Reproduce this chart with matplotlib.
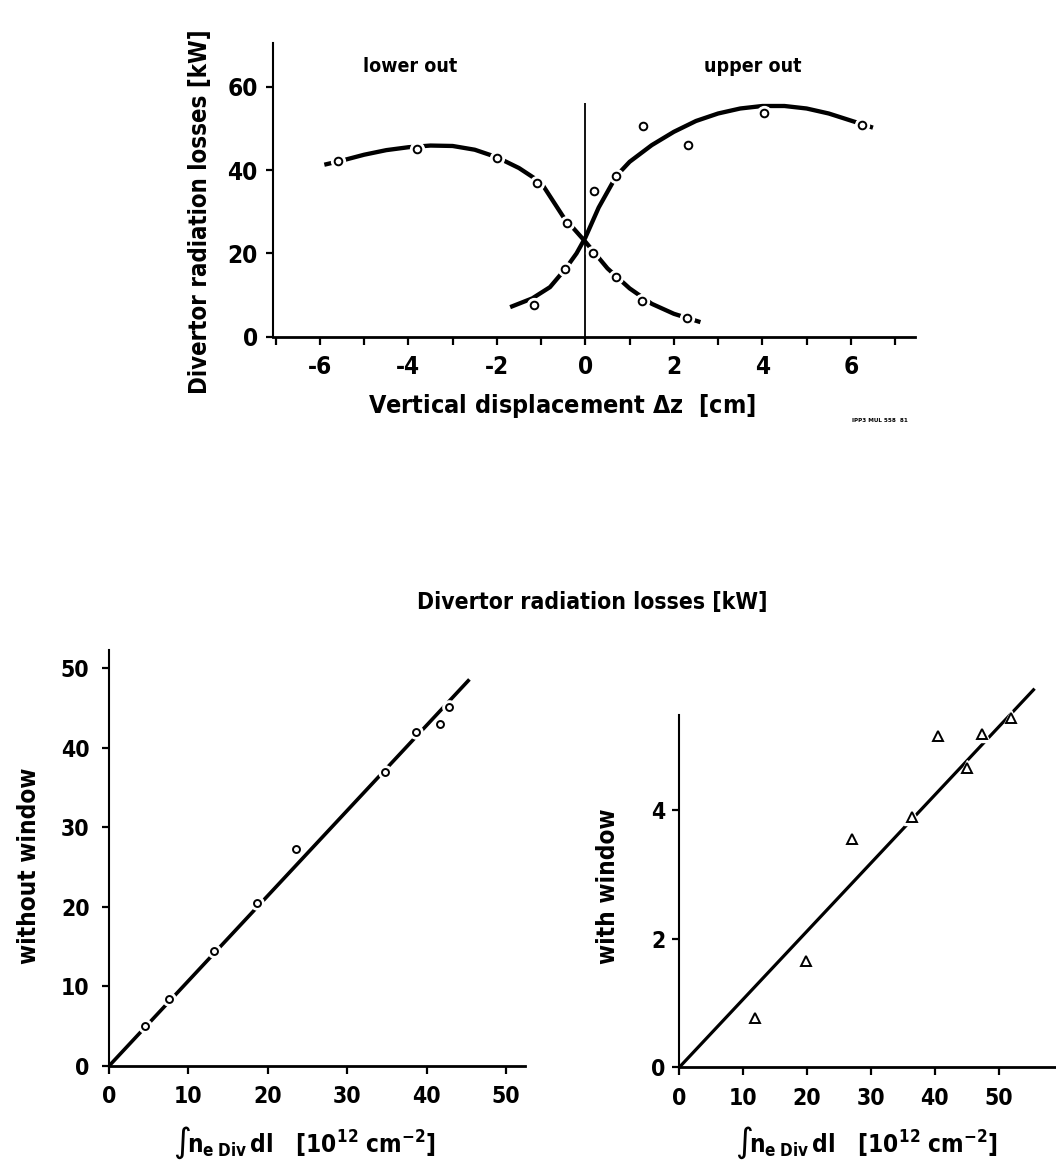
"""Divertor radiation losses: displacement scan and density scaling."""

import matplotlib

matplotlib.use("Agg")
import matplotlib.pyplot as plt

plt.rcParams["font.family"] = ["DejaVu Sans"]
plt.rcParams["font.stretch"] = "condensed"
plt.rcParams["font.weight"] = "bold"
plt.rcParams["axes.unicode_minus"] = False
plt.rcParams["mathtext.fontset"] = "dejavusans"
plt.rcParams["mathtext.default"] = "bf"

# --- top panel: radiation vs vertical displacement ---
lower_x = [-5.6, -3.8, -2.0, -1.09, -0.41, 0.18, 0.69, 1.29, 2.29]
lower_y = [42.1, 45.1, 43.0, 37.0, 27.3, 20.1, 14.3, 8.5, 4.5]
upper_x = [-1.16, -0.45, 0.2, 0.69, 1.30, 2.33, 4.03, 6.25]
upper_y = [7.6, 16.25, 35.0, 38.6, 50.7, 46.1, 53.6, 50.9]

# hand-drawn fit curves
lower_fit_x = [-5.9, -5.5, -5.0, -4.5, -4.0, -3.5, -3.0, -2.5, -2.0, -1.5, -1.0,
               -0.5, 0.0, 0.5, 1.0, 1.5, 2.0, 2.6]
lower_fit_y = [41.3, 42.3, 43.7, 44.8, 45.5, 45.9, 45.8, 44.9, 43.1, 40.5, 37.0,
               28.8, 22.8, 16.4, 11.6, 7.9, 5.5, 3.5]
upper_fit_x = [-1.7, -1.2, -0.8, -0.45, -0.2, 0.0, 0.3, 0.7, 1.0, 1.5, 2.0, 2.5,
               3.0, 3.5, 4.0, 4.5, 5.0, 5.5, 6.0, 6.5]
upper_fit_y = [7.1, 9.2, 11.9, 16.3, 20.0, 23.8, 31.0, 38.6, 42.0, 46.0, 49.2,
               51.8, 53.6, 54.8, 55.4, 55.4, 54.8, 53.6, 51.9, 50.2]

# --- bottom panels: radiation vs line density ---
nodw_x = [4.5, 7.6, 13.2, 18.6, 23.6, 34.8, 38.65, 41.7, 42.85]
nodw_y = [5.07, 8.38, 14.46, 20.5, 27.3, 36.9, 41.95, 43.0, 45.1]
nodw_fit_x = [0, 45.4]
nodw_fit_y = [0, 48.6]

win_x = [11.8, 19.8, 26.95, 36.45, 40.5, 45.05, 47.3, 51.9]
win_y = [0.76, 1.65, 3.55, 3.90, 5.15, 4.66, 5.18, 5.44]
win_fit_x = [0, 55.6]
win_fit_y = [0, 5.89]

W, H = 1056, 1164
DENS_LABEL = r"$\int\!\mathrm{\mathbf{n}}_{\mathbf{e\;Div}}\,\mathbf{dl}$   [10$^{12}$ cm$^{-2}$]"


def fx(px):
    return px / W


def fy(py):
    return 1 - py / H


def add_axes_px(left, top, right, bottom):
    return fig.add_axes([fx(left), fy(bottom), fx(right) - fx(left), fy(top) - fy(bottom)])


def style_axes(ax, tick_size, xpad, ypad):
    for side in ("top", "right"):
        ax.spines[side].set_visible(False)
    ax.spines["left"].set_linewidth(1.5)
    ax.spines["bottom"].set_linewidth(2.0)
    ax.tick_params(axis="x", direction="out", length=6, width=1.6,
                   labelsize=tick_size, pad=xpad)
    ax.tick_params(axis="y", direction="out", length=5, width=1.6,
                   labelsize=tick_size, pad=ypad)


def open_marks(ax, x, y, marker, ms, halo):
    ax.plot(x, y, marker, ms=halo, mfc="white", mec="white", ls="none",
            zorder=3, clip_on=False)
    ax.plot(x, y, marker, ms=ms, mfc="white", mec="black", mew=1.4, ls="none",
            zorder=4, clip_on=False)


fig = plt.figure(figsize=(W / 100, H / 100), dpi=100)

# top
ax = add_axes_px(273, 42.7, 915, 336.7)
ax.plot(lower_fit_x, lower_fit_y, color="black", lw=3.1, solid_capstyle="butt")
ax.plot(upper_fit_x, upper_fit_y, color="black", lw=3.1, solid_capstyle="butt")
ax.vlines(0, 0, 56, color="black", lw=1.3)
open_marks(ax, lower_x, lower_y, "o", 5.5, 10)
open_marks(ax, upper_x, upper_y, "o", 5.5, 10)
ax.set_xlim(-7.06, 7.45)
ax.set_ylim(0, 70.6)
ax.set_xticks(range(-7, 8))
ax.set_xticklabels(["" if v % 2 else str(v) for v in range(-7, 8)])
ax.set_yticks([0, 20, 40, 60])
style_axes(ax, 17.5, 7, 6)
ax.text(-3.96, 65, "lower out", ha="center", va="center", fontsize=14)
ax.text(3.79, 65, "upper out", ha="center", va="center", fontsize=14)
fig.text(fx(562), fy(406), r"Vertical displacement $\Delta$z  [cm]",
         ha="center", va="center", fontsize=18)
fig.text(fx(200), fy(212), "Divertor radiation losses [kW]", rotation=90,
         ha="center", va="center", fontsize=17.2)
fig.text(fx(880), fy(421), "IPP3 MUL 558  81", ha="center", va="center",
         fontsize=4.5)

# bottom left
ax = add_axes_px(109, 650, 525, 1066)
ax.plot(nodw_fit_x, nodw_fit_y, color="black", lw=2.6, solid_capstyle="butt")
open_marks(ax, nodw_x, nodw_y, "o", 5, 9.5)
ax.set_xlim(0, 52.4)
ax.set_ylim(0, 52.3)
ax.set_xticks(range(0, 51, 10))
ax.set_yticks(range(0, 51, 10))
style_axes(ax, 16.5, 8, 9)
fig.text(fx(29), fy(866), "without window", rotation=90, ha="center",
         va="center", fontsize=17.5)
fig.text(fx(305), fy(1143), DENS_LABEL, ha="center", va="center", fontsize=17.5)

# bottom right
ax = add_axes_px(679.3, 715, W, 1067.3)
ax.plot(win_fit_x, win_fit_y, color="black", lw=2.3, solid_capstyle="butt",
        clip_on=False)
open_marks(ax, win_x, win_y, "^", 7.5, 11)
ax.set_xlim(0, 58.95)
ax.set_ylim(0, 5.48)
ax.set_xticks(range(0, 51, 10))
ax.set_yticks([0, 2, 4])
style_axes(ax, 16.5, 8, 5)
fig.text(fx(608), fy(886), "with window", rotation=90, ha="center",
         va="center", fontsize=17.5)
fig.text(fx(867), fy(1143), DENS_LABEL, ha="center", va="center", fontsize=17.5)

fig.text(fx(592), fy(603), "Divertor radiation losses [kW]", ha="center",
         va="center", fontsize=16.5)

fig.savefig("out.png", dpi=100, facecolor="white")
